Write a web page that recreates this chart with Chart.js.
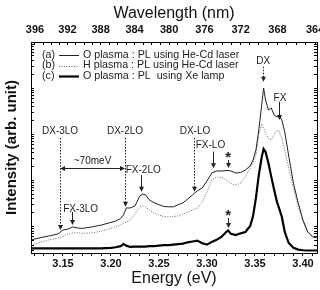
<!DOCTYPE html>
<html>
<head>
<meta charset="utf-8">
<script src="https://cdn.jsdelivr.net/npm/chart.js@4/dist/chart.umd.min.js"></script>
<style>
html,body{margin:0;padding:0;background:#fff}
#wrap{width:320px;height:290px}
</style>
</head>
<body>
<div id="wrap"><canvas id="myChart"></canvas></div>
<script>
// photon energy (eV) where the spectra were read
var energy = [3.117,3.125,3.135,3.145,3.150,3.155,3.160,3.165,3.170,3.180,3.190,3.200,3.205,3.210,3.213,3.216,3.220,3.225,3.230,3.233,
  3.236,3.240,3.245,3.250,3.255,3.260,3.265,3.270,3.275,3.280,3.285,3.290,3.295,3.300,3.305,3.310,3.315,3.320,3.322,3.325,
  3.330,3.335,3.340,3.345,3.348,3.351,3.354,3.357,3.359,3.361,3.364,3.367,3.370,3.373,3.375,3.378,3.381,3.385,3.390,3.395,
  3.400,3.405,3.410,3.415];
// (a) O plasma, He-Cd laser
var oPlasmaHeCd = [5.2,5.7,6.3,7.0,8.5,8.9,9.9,9.4,9.2,9.9,10.9,12.4,13.3,15.1,18.0,25.5,25.5,28.2,46,51,
  49,38,33,30,27.5,27,27,30,33,40,49,60,69,98,146,161,161,165,165,161,
  146,149,169,207,278,459,1243,4300,10100,5550,3370,3720,2630,2380,2500,2050,1126,357,88.6,33,
  14,7.7,6.0,5.7];
// (b) H plasma, He-Cd laser
var hPlasmaHeCd = [4.0,4.5,5.2,5.7,6.2,7.0,7.3,7.5,7.2,7.3,8.1,9.2,9.9,10.9,11.8,12.7,14.0,18.9,27,28.2,
  27,23,19.8,18.0,16.7,16.3,16.7,17.1,18.9,20.9,23,25.5,34,56,103,119.5,116,103,95,86,
  80,88.6,119.5,187,252,357,972,1680,1374,1071,793,756,1019,1243,1183,833,459,187,69,27,
  12.7,7.7,6.3,6.0];
// (c) O plasma, Xe lamp
var oPlasmaXe = [3.4,3.4,3.4,3.4,3.4,3.4,3.4,3.4,3.4,3.4,3.4,3.5,3.6,3.8,4.2,3.9,3.65,3.7,3.7,3.7,
  3.7,3.8,3.8,3.9,4.0,4.0,4.1,4.2,4.3,4.6,4.8,5.0,4.4,4.1,4.7,5.2,6.0,7.7,8.3,7.0,
  6.6,7.2,7.7,10.4,17.1,42,132,323,482,415,240,120,62.5,34,25.5,16.3,7.7,4.5,3.5,3.2,
  3.1,3.06,3.06,3.06];

var seriesLabels = ['O plasma : PL using He-Cd laser', 'H plasma : PL using He-Cd laser', 'O plasma : PL  using Xe lamp'];
var energyTicks = ['3.15','3.20','3.25','3.30','3.35','3.40'];
var wavelengthTicks = ['396','392','388','384','380','376','372','368','364'];

// peak markers: e = energy of arrow, te = energy of text, ty = text level, from/to = arrow span (intensity)
var peakLabels = [
  {text:'DX-3LO', e:3.147,  te:3.147,  ty:1180, from:833,  to:8.5,   dash:true},
  {text:'DX-2LO', e:3.2146, te:3.2146, ty:1180, from:833,  to:27,    dash:true},
  {text:'DX-LO',  e:3.2865, te:3.2875, ty:1180, from:833,  to:57,    dash:true},
  {text:'FX-3LO', e:3.1597, te:3.1684, ty:24,   from:20.9, to:10.9},
  {text:'FX-2LO', e:3.2313, te:3.2336, ty:169,  from:132,  to:57},
  {text:'FX-LO',  e:3.3066, te:3.3036, ty:588,  from:422,  to:184},
  {text:'DX',     e:3.3586, te:3.3586, ty:38400,from:29200,to:13800, dash:true},
  {text:'FX',     e:3.3753, te:3.376,  ty:6150, from:5100, to:2050}
];
var starMarks = [
  {e:3.3222, ty:357,  from:278,  to:187},
  {e:3.3222, ty:19.8, from:15.5, to:9.4}
];
var spacing = {text:'~70meV', e1:3.147, e2:3.2146, ty:256, y:184};

var FONT = '"Liberation Sans", Arial, sans-serif';

function pts(arr){
  return energy.map(function(e,i){ return {x:e, y:arr[i]}; });
}

function downArrow(ctx,x,y1,y2,dashed){
  ctx.lineWidth = 1;
  ctx.setLineDash(dashed ? [1.5,1.5] : []);
  ctx.beginPath(); ctx.moveTo(x,y1); ctx.lineTo(x,y2-4); ctx.stroke();
  ctx.setLineDash([]);
  ctx.beginPath(); ctx.moveTo(x-2.5,y2-5); ctx.lineTo(x+2.5,y2-5); ctx.lineTo(x,y2); ctx.closePath(); ctx.fill();
}

function logTicks(scale){
  var t = [];
  for (var k = 0; k <= 5; k++) for (var m = 1; m <= 9; m++) {
    var v = m*Math.pow(10,k);
    if (v >= scale.min && v <= scale.max) t.push({value:v});
  }
  scale.ticks = t;
}

var annotatePlugin = {
  id:'annotate',
  afterDatasetsDraw: function(chart){
    var ctx = chart.ctx, xs = chart.scales.x, ys = chart.scales.y;
    ctx.save();
    ctx.fillStyle = '#222'; ctx.strokeStyle = '#222';
    ctx.font = '10px ' + FONT;
    ctx.textAlign = 'center'; ctx.textBaseline = 'middle';
    peakLabels.forEach(function(p){
      ctx.fillText(p.text, xs.getPixelForValue(p.te), ys.getPixelForValue(p.ty));
      downArrow(ctx, Math.round(xs.getPixelForValue(p.e))+0.5, ys.getPixelForValue(p.from), ys.getPixelForValue(p.to), p.dash);
    });
    ctx.font = 'bold 15px ' + FONT;
    starMarks.forEach(function(s){
      var x = xs.getPixelForValue(s.e);
      ctx.fillText('*', x, ys.getPixelForValue(s.ty)+3);
      downArrow(ctx, Math.round(x)+0.5, ys.getPixelForValue(s.from), ys.getPixelForValue(s.to), false);
    });
    // ~70meV double arrow
    var x1 = xs.getPixelForValue(spacing.e1), x2 = xs.getPixelForValue(spacing.e2), y = Math.round(ys.getPixelForValue(spacing.y))+0.5;
    ctx.font = '10px ' + FONT;
    ctx.fillText(spacing.text, (x1+x2)/2, ys.getPixelForValue(spacing.ty));
    ctx.lineWidth = 1;
    ctx.beginPath(); ctx.moveTo(x1+4,y); ctx.lineTo(x2-4,y); ctx.stroke();
    ctx.beginPath(); ctx.moveTo(x1,y); ctx.lineTo(x1+5,y-2.5); ctx.lineTo(x1+5,y+2.5); ctx.closePath(); ctx.fill();
    ctx.beginPath(); ctx.moveTo(x2,y); ctx.lineTo(x2-5,y-2.5); ctx.lineTo(x2-5,y+2.5); ctx.closePath(); ctx.fill();
    ctx.restore();
  },
  afterDraw: function(chart){
    var ctx = chart.ctx, a = chart.chartArea;
    ctx.save();
    ctx.font = '10.7px ' + FONT;
    ctx.textBaseline = 'middle'; ctx.textAlign = 'left';
    chart.data.datasets.forEach(function(ds,i){
      var y = a.top + 13 + i*10.5;
      ctx.fillStyle = '#222';
      ctx.fillText('(' + 'abc'[i] + ')', a.left+11, y);
      ctx.fillText(ds.label, a.left+52, y);
      ctx.strokeStyle = ds.borderColor; ctx.lineWidth = ds.borderWidth;
      ctx.setLineDash(ds.borderDash || []);
      ctx.beginPath(); ctx.moveTo(a.left+28, Math.round(y)+0.5); ctx.lineTo(a.left+48, Math.round(y)+0.5); ctx.stroke();
      ctx.setLineDash([]);
    });
    ctx.restore();
  }
};

var ctx = document.getElementById('myChart');
var chart = new Chart(ctx, {
  type:'line',
  data:{
    datasets:[
      {label:seriesLabels[0], data:pts(oPlasmaHeCd), borderColor:'#222', borderWidth:1, pointRadius:0, fill:false},
      {label:seriesLabels[1], data:pts(hPlasmaHeCd), borderColor:'#666', borderWidth:1, borderDash:[1,1.5], pointRadius:0, fill:false},
      {label:seriesLabels[2], data:pts(oPlasmaXe), borderColor:'#000', borderWidth:2.2, pointRadius:0, fill:false}
    ]
  },
  options:{
    responsive:true,
    maintainAspectRatio:false,
    animation:false,
    layout:{padding:0},
    plugins:{legend:{display:false}, tooltip:{enabled:false}},
    scales:{
      x:{
        type:'linear', position:'bottom', min:3.1167, max:3.4146,
        afterBuildTicks:function(scale){
          var t = [];
          for (var i = 312; i <= 341; i++) t.push({value:i/100});
          scale.ticks = t;
        },
        afterFit:function(scale){ scale.height = 37; scale.paddingLeft = 0; scale.paddingRight = 0; },
        ticks:{
          autoSkip:false, maxRotation:0, padding:1, color:'#111',
          font:{family:FONT, size:11, weight:'bold'},
          callback:function(v){ var s = v.toFixed(2); return energyTicks.indexOf(s) >= 0 ? s : ''; }
        },
        grid:{drawOnChartArea:false, tickLength:3, color:'#000'},
        border:{color:'#000', width:1},
        title:{display:true, text:'Energy (eV)', color:'#111', font:{family:FONT, size:16}, padding:{top:0, bottom:2}}
      },
      x2:{
        type:'linear', position:'top', min:3.127, max:3.408,
        afterBuildTicks:function(scale){
          var t = [];
          for (var w = 396; w >= 364; w--) t.push({value:1239.84/w});
          scale.ticks = t;
        },
        afterFit:function(scale){ scale.height = 42; scale.paddingLeft = 0; scale.paddingRight = 0; },
        ticks:{
          autoSkip:false, maxRotation:0, padding:8, color:'#111',
          font:{family:FONT, size:11, weight:'bold'},
          callback:function(v){ var s = String(Math.round(1239.84/v)); return wavelengthTicks.indexOf(s) >= 0 ? s : ''; }
        },
        grid:{drawOnChartArea:false, tickLength:-3, color:'#000'},
        border:{color:'#000', width:1},
        title:{display:true, text:'Wavelength (nm)', color:'#111', font:{family:FONT, size:16}, padding:{top:4, bottom:0}}
      },
      y:{
        type:'logarithmic', position:'left', min:2.7, max:100000,
        afterBuildTicks:logTicks,
        afterFit:function(scale){ scale.width = 31; scale.paddingTop = 0; scale.paddingBottom = 0; },
        ticks:{display:false},
        grid:{drawOnChartArea:false, tickLength:-3, color:'#000'},
        border:{color:'#000', width:1},
        title:{display:true, text:'Intensity (arb. unit)', color:'#111', font:{family:FONT, size:15, weight:'bold'}, padding:{top:3, bottom:0}}
      },
      y2:{
        type:'logarithmic', position:'right', min:2.7, max:100000,
        afterBuildTicks:logTicks,
        afterFit:function(scale){ scale.width = 3; scale.paddingTop = 0; scale.paddingBottom = 0; },
        ticks:{display:false},
        grid:{drawOnChartArea:false, tickLength:-3, color:'#000'},
        border:{color:'#000', width:1}
      }
    }
  },
  plugins:[annotatePlugin]
});
</script>
</body>
</html>
